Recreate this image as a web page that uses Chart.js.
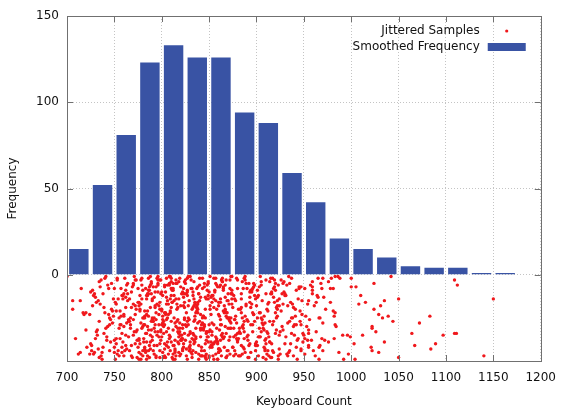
<!DOCTYPE html>
<html>
<head>
<meta charset="utf-8">
<script src="https://cdn.jsdelivr.net/npm/chart.js@4.4.1/dist/chart.umd.min.js"></script>
<style>
  html, body { margin: 0; padding: 0; background: #fff; }
  #chart { display: block; }
</style>
</head>
<body>
<canvas id="chart" width="566" height="412"></canvas>
<script>
// histogram bins (width 25) and their counts
const binCenters = [712.5, 737.5, 762.5, 787.5, 812.5, 837.5, 862.5, 887.5, 912.5, 937.5,
  962.5, 987.5, 1012.5, 1037.5, 1062.5, 1087.5, 1112.5, 1137.5, 1162.5];
const frequencies = [15, 52, 81, 123, 133, 126, 126, 94, 88, 59, 42, 21, 15, 10, 5, 4, 4, 1, 1];

const xLimits = [700, 1200];
const yLimits = [-50, 150];
const tickStep = 50;

// raw samples, y is the jitter below the axis
const jitterSamples = [
  // 700-725
  [700,-1],[715,-8],[706,-15],[714,-15],[706,-20],[717,-22],[718,-23],[720,-22],[724,-23],[720,-32],[714,-45],[712,-46],[721,-42],[724,-46],[709,-37],
  // 725-750
  [728,-12],[742,-38],[734,-27],[747,-5],[726,-44],[739,-19],[731,-33],[744,-8],[736,-47],[749,-24],
  [733,-15],[725,-40],[740,-2],[745,-29],[729,-11],[737,-45],[748,-21],[732,-35],[743,-6],[735,-17],
  [738,-42],[746,-26],[727,-9],[741,-31],[734,-48],[749,-14],[730,-37],[736,-3],[744,-23],[726,-41],
  [731,-16],[743,-30],[735,-7],[728,-46],[747,-20],[739,-34],[725,-10],[745,-25],[733,-43],[741,-1],
  [748,-28],[730,-13],[737,-49],[742,-36],[727,-18],[734,-4],[746,-39],[740,-22],[732,-32],[738,-11],
  [729,-45],[745,-44],
  // 750-775
  [758,-45],[750,-8],[765,-26],[770,-35],[754,-14],[762,-41],[773,-3],[757,-29],[768,-19],[760,-47],
  [763,-6],[771,-33],[752,-21],[766,-44],[759,-12],[774,-38],[755,-25],[761,-2],[769,-48],[751,-16],
  [756,-37],[768,-10],[760,-30],[753,-46],[772,-23],[764,-5],[750,-42],[770,-17],[758,-34],[766,-27],
  [773,-20],[755,-47],[762,-9],[767,-31],[752,-40],[759,-14],[771,-1],[765,-36],[757,-24],[763,-43],
  [753,-3],[767,-25],[759,-39],[772,-18],[751,-49],[764,-11],[756,-29],[769,-7],[761,-44],[774,-32],
  [758,-12],[750,-38],[765,-27],[770,-5],[754,-44],[762,-19],[773,-33],[757,-8],[768,-47],[760,-24],
  [764,-15],[772,-40],[753,-2],[767,-29],[760,-11],[750,-45],[756,-21],[762,-35],[770,-6],[752,-17],
  [758,-42],[770,-26],[762,-13],[755,-31],[774,-48],[766,-14],[752,-37],[772,-3],[760,-23],[768,-41],
  [763,-28],
  // 775-800
  [798,-16],[780,-30],[787,-7],[792,-46],[777,-20],[784,-34],[796,-10],[790,-25],[782,-43],[788,-1],
  [778,-28],[792,-13],[784,-49],[797,-36],[776,-18],[789,-4],[781,-39],[794,-22],[786,-32],[799,-11],
  [783,-45],[775,-8],[790,-26],[795,-35],[779,-14],[787,-41],[798,-3],[782,-29],[793,-19],[785,-47],
  [788,-6],[796,-33],[777,-21],[791,-44],[784,-12],[799,-38],[780,-25],[786,-2],[794,-48],[776,-16],
  [781,-37],[793,-10],[785,-30],[778,-46],[797,-23],[789,-5],[775,-42],[795,-17],[783,-34],[791,-27],
  [798,-20],[780,-47],[787,-9],[792,-31],[777,-40],[784,-14],[796,-1],[790,-36],[782,-24],[788,-43],
  [778,-3],[792,-25],[784,-39],[797,-18],[776,-49],[789,-11],[781,-29],[794,-7],[786,-44],[799,-32],
  [785,-12],[776,-38],[791,-27],[796,-5],[780,-44],[788,-19],[799,-33],[783,-8],[794,-47],[786,-24],
  [790,-15],[798,-40],[779,-2],[793,-29],[786,-11],[776,-45],[782,-21],[788,-35],[796,-6],[778,-17],
  [782,-42],[794,-26],[786,-9],[779,-31],[798,-48],[790,-14],[776,-37],[796,-3],[784,-23],[792,-41],
  [799,-3],[781,-25],[788,-39],[793,-18],[778,-49],[785,-11],[797,-29],[791,-7],[783,-44],[789,-32],
  [779,-6],[793,-33],[785,-21],[798,-44],[777,-12],[790,-38],[782,-25],[795,-2],[787,-48],[775,-16],
  [789,-27],[780,-9],[795,-41],
  // 800-825
  [811,-9],[802,-34],[820,-18],[807,-42],[816,-27],[824,-4],[804,-48],[813,-15],[822,-37],[809,-22],
  [819,-31],[805,-2],[814,-44],[800,-20],[823,-13],[810,-39],[817,-26],[803,-7],[812,-46],[821,-35],
  [801,-24],[812,-41],[824,-11],[808,-5],[818,-36],[805,-17],[815,-47],[822,-29],[810,-8],[803,-40],
  [803,-47],[817,-19],[809,-36],[822,-10],[801,-28],[814,-43],[806,-6],[819,-33],[811,-16],[824,-25],
  [808,-1],[800,-29],[815,-14],[820,-38],[804,-22],[812,-49],[823,-8],[807,-31],[818,-45],[810,-12],
  [813,-12],[821,-38],[802,-27],[816,-5],[809,-44],[824,-19],[805,-33],[811,-8],[819,-47],[801,-26],
  [806,-15],[818,-40],[810,-2],[803,-29],[822,-11],[814,-45],[800,-21],[820,-35],[808,-6],[816,-17],
  [823,-42],[805,-26],[812,-9],[817,-31],[802,-48],[809,-14],[821,-37],[815,-3],[807,-23],[813,-41],
  [811,-16],[802,-30],[820,-7],[807,-46],[816,-20],[824,-34],[804,-10],[813,-25],[822,-43],[809,-1],
  [819,-28],[805,-13],[814,-49],[800,-36],[823,-18],[810,-4],[817,-39],[803,-22],[812,-32],[821,-11],
  [801,-45],[812,-8],[824,-26],[808,-35],[818,-14],[805,-41],[815,-5],[822,-31],[810,-19],[803,-43],
  [803,-6],[817,-33],[809,-21],[822,-44],[801,-12],[814,-38],[806,-25],[819,-2],[811,-48],[824,-16],
  [808,-37],[800,-10],[815,-30],[820,-46],[804,-23],[812,-5],[823,-40],[807,-17],[818,-34],[810,-27],
  [806,-39],[818,-4],[814,-28],
  // 825-850
  [838,-20],[846,-47],[827,-9],[841,-31],[834,-40],[849,-14],[830,-1],[836,-36],[844,-24],[826,-43],
  [831,-3],[843,-25],[835,-39],[828,-18],[847,-49],[839,-11],[825,-29],[845,-7],[833,-44],[841,-32],
  [848,-9],[830,-34],[837,-18],[842,-42],[827,-27],[834,-4],[846,-48],[840,-15],[832,-37],[838,-22],
  [836,-31],[827,-2],[845,-44],[832,-20],[841,-13],[849,-39],[829,-26],[838,-7],[847,-46],[834,-35],
  [844,-24],[830,-41],[839,-11],[825,-5],[848,-36],[835,-17],[842,-47],[828,-29],[837,-8],[846,-40],
  [826,-47],[837,-19],[849,-36],[833,-10],[843,-28],[830,-43],[840,-6],[847,-33],[835,-16],[828,-25],
  [828,-1],[842,-29],[834,-14],[847,-38],[826,-22],[839,-49],[831,-8],[844,-31],[836,-45],[849,-12],
  [833,-12],[825,-38],[840,-27],[845,-5],[829,-44],[837,-19],[848,-33],[832,-8],[843,-47],[835,-24],
  [838,-28],[846,-13],[827,-49],[841,-36],[834,-18],[849,-4],[830,-39],[836,-22],[844,-32],[826,-11],
  [831,-45],[843,-8],[835,-26],[828,-35],[847,-14],[839,-41],[825,-3],[845,-29],[833,-19],[841,-47],
  [848,-6],[830,-33],[837,-21],[842,-44],[827,-12],[834,-38],[846,-25],[840,-2],[832,-48],[838,-16],
  [836,-37],[827,-10],[845,-30],[832,-46],[841,-23],[849,-5],[829,-42],[838,-17],[847,-34],[834,-27],
  [843,-2],[829,-15],[846,-20],[833,-34],[839,-46],[826,-30],
  // 850-875
  [869,-15],[855,-40],[864,-2],[850,-29],[873,-11],[860,-45],[867,-21],[853,-35],[862,-6],[871,-17],
  [851,-42],[862,-26],[874,-9],[858,-31],[868,-48],[855,-14],[865,-37],[872,-3],[860,-23],[853,-41],
  [853,-16],[867,-30],[859,-7],[872,-46],[851,-20],[864,-34],[856,-10],[869,-25],[861,-43],[874,-1],
  [858,-20],[850,-47],[865,-9],[870,-31],[854,-40],[862,-14],[873,-1],[857,-36],[868,-24],[860,-43],
  [863,-3],[871,-25],[852,-39],[866,-18],[859,-49],[874,-11],[855,-29],[861,-7],[869,-44],[851,-32],
  [856,-9],[868,-34],[860,-18],[853,-42],[872,-27],[864,-4],[850,-48],[870,-15],[858,-37],[866,-22],
  [873,-31],[855,-2],[862,-44],[867,-20],[852,-13],[859,-39],[871,-26],[865,-7],[857,-46],[863,-35],
  [861,-24],[852,-41],[870,-11],[857,-5],[866,-36],[874,-17],[854,-47],[863,-29],[872,-8],[859,-40],
  [869,-47],[855,-19],[864,-36],[850,-10],[873,-28],[860,-43],[867,-6],[853,-33],[862,-16],[871,-25],
  [851,-1],[862,-29],[874,-14],[858,-38],[868,-22],[855,-49],[865,-8],[872,-31],[860,-45],[853,-12],
  [853,-28],[867,-13],[859,-49],[872,-36],[851,-18],[864,-4],[856,-39],[869,-22],[861,-32],[874,-11],
  [858,-6],[850,-33],[865,-21],[870,-44],[854,-12],[862,-38],[873,-25],[857,-2],[868,-48],[860,-16],
  [866,-42],[852,-23],[871,-38],[857,-15],[863,-47],[868,-3],
  // 875-900
  [888,-45],[896,-8],[877,-26],[891,-35],[884,-14],[899,-41],[880,-3],[886,-29],[894,-19],[876,-47],
  [881,-37],[893,-10],[885,-30],[878,-46],[897,-23],[889,-5],[875,-42],[895,-17],[883,-34],[891,-27],
  [898,-12],[880,-38],[887,-27],[892,-5],[877,-44],[884,-19],[896,-33],[890,-8],[882,-47],[888,-24],
  [886,-42],[877,-26],[895,-9],[882,-31],[891,-48],[899,-14],[879,-37],[888,-3],[897,-23],[884,-41],
  [894,-9],[880,-34],[889,-18],[875,-42],[898,-27],[885,-4],[892,-48],[878,-15],[887,-37],[896,-22],
  [876,-31],[887,-2],[899,-44],[883,-20],[893,-13],[880,-39],[890,-26],[897,-7],[885,-46],[878,-35],
  [878,-24],[892,-41],[884,-11],[897,-5],[876,-36],[889,-17],[881,-47],[894,-29],[886,-8],[899,-40],
  [883,-47],[875,-19],[890,-36],[895,-10],[879,-28],[887,-43],[898,-6],[882,-33],[893,-16],[885,-25],
  [888,-1],[896,-29],[877,-14],[891,-38],[884,-22],[899,-49],[880,-8],[886,-31],[894,-45],[876,-12],
  [881,-20],[893,-40],[887,-33],[879,-2],
  // 900-925
  [906,-28],[918,-13],[910,-49],[903,-36],[922,-18],[914,-4],[900,-39],[920,-22],[908,-32],[916,-11],
  [923,-6],[905,-33],[912,-21],[917,-44],[902,-12],[909,-38],[921,-25],[915,-2],[907,-48],[913,-16],
  [911,-20],[902,-47],[920,-9],[907,-31],[916,-40],[924,-14],[904,-1],[913,-36],[922,-24],[909,-43],
  [919,-3],[905,-25],[914,-39],[900,-18],[923,-49],[910,-11],[917,-29],[903,-7],[912,-44],[921,-32],
  [901,-9],[912,-34],[924,-18],[908,-42],[918,-27],[905,-4],[915,-48],[922,-15],[910,-37],[903,-22],
  [903,-31],[917,-2],[909,-44],[922,-20],[901,-13],[914,-39],[906,-26],[919,-7],[911,-46],[924,-35],
  [908,-24],[900,-41],[915,-11],[920,-5],[904,-36],[912,-17],[923,-47],[907,-29],[918,-8],[910,-40],
  [913,-47],[921,-19],[902,-36],[916,-10],[909,-28],[924,-43],[905,-6],[911,-33],[919,-16],[901,-25],
  [906,-15],[918,-45],[914,-27],[901,-41],[920,-34],[910,-3],[904,-22],[916,-48],
  // 925-950
  [931,-12],[943,-38],[935,-27],[928,-5],[947,-44],[939,-19],[925,-33],[945,-8],[933,-47],[941,-24],
  [948,-15],[930,-40],[937,-2],[942,-29],[927,-11],[934,-45],[946,-21],[940,-35],[932,-6],[938,-17],
  [936,-16],[927,-30],[945,-7],[932,-46],[941,-20],[949,-34],[929,-10],[938,-25],[947,-43],[934,-1],
  [944,-37],[930,-12],[939,-30],[925,-46],[948,-23],[935,-5],[942,-42],[928,-17],[937,-34],[946,-27],
  [926,-3],[937,-25],[949,-39],[933,-18],[943,-49],[930,-11],[940,-29],[947,-7],[935,-44],[928,-32],
  [931,-36],[944,-14],[939,-47],[926,-21],[947,-29],[936,-40],[929,-4],[942,-9],[933,-28],
  // 950-975
  [965,-2],[959,-4],[968,-5],[951,-8],[959,-7],[959,-9],[959,-11],[969,-8],[964,-12],[965,-13],
  [971,-13],[955,-15],[954,-17],[963,-16],[961,-18],[952,-24],[966,-25],[967,-25],[970,-28],[953,-30],
  [955,-32],[955,-34],[950,-35],[951,-37],[954,-38],[958,-38],[969,-37],[972,-38],[955,-41],[955,-42],
  [966,-42],[967,-41],[970,-44],[951,-46],[962,-47],[966,-49],[956,-26],[963,-33],[973,-20],[960,-44],
  [957,-6],[970,-2],
  // 975-1000
  [979,-2],[983,-1],[986,-1],[988,-2],[976,-4],[978,-8],[981,-8],[978,-16],[981,-21],[983,-22],
  [982,-24],[983,-29],[984,-30],[991,-35],[996,-35],[999,-36],[976,-39],[982,-37],[987,-45],[997,-46],
  [992,-49],
  // 1000-1025
  [1000,-2],[1000,-7],[1005,-7],[1010,-12],[1008,-17],[1015,-16],[1024,-5],[1024,-20],[1022,-30],[1022,-31],
  [1012,-35],[1003,-40],[1021,-42],[1022,-44],[1004,-49],
  // 1025-1050
  [1042,-1],[1035,-15],[1031,-18],[1029,-23],[1033,-25],[1039,-24],[1026,-33],[1035,-39],[1029,-45],[1044,-27],
  // 1050 and up
  [1050,-14],[1050,-48],[1064,-34],[1067,-41],[1072,-28],
  [1083,-24],[1097,-35],[1089,-40],[1084,-43],
  [1109,-3],[1112,-6],[1109,-34],[1111,-34],
  [1140,-47],
  [1150,-14]
];

const FONT = '"DejaVu Sans", Verdana, sans-serif';
Chart.defaults.font.family = FONT;
Chart.defaults.font.size = 12;
Chart.defaults.color = '#111';

const RED = 'rgb(240,24,28)';
const BLUE = '#3953a4';
const FRAME = '#707070';

// gnuplot style box: border, inward ticks on all four sides, legend inside the top right
const frameAndKey = {
  id: 'frameAndKey',
  afterDraw(chart) {
    const { ctx, chartArea: a, scales: { x, y } } = chart;
    const tickLen = 6;
    ctx.save();
    ctx.strokeStyle = FRAME;
    ctx.lineWidth = 1;
    ctx.beginPath();
    for (const t of x.ticks) {
      const px = Math.round(x.getPixelForValue(t.value)) + 0.5;
      ctx.moveTo(px, a.bottom);
      ctx.lineTo(px, a.bottom - tickLen);
      ctx.moveTo(px, a.top);
      ctx.lineTo(px, a.top + tickLen);
    }
    for (const t of y.ticks) {
      if (t.value < 0) continue;
      const py = Math.round(y.getPixelForValue(t.value)) + 0.5;
      ctx.moveTo(a.left, py);
      ctx.lineTo(a.left + tickLen, py);
      ctx.moveTo(a.right, py);
      ctx.lineTo(a.right - tickLen, py);
    }
    ctx.stroke();
    ctx.strokeRect(Math.round(a.left) + 0.5, Math.round(a.top) + 0.5,
      Math.round(a.width), Math.round(a.height));

    // key
    const [samples, bars] = chart.data.datasets;
    const textRight = a.right - 61;
    const row1 = a.top + 15;
    const row2 = a.top + 31;
    ctx.font = '12px ' + FONT;
    ctx.fillStyle = '#111';
    ctx.textAlign = 'right';
    ctx.textBaseline = 'middle';
    ctx.fillText(samples.label, textRight, row1);
    ctx.fillText(bars.label, textRight, row2);
    ctx.fillStyle = RED;
    ctx.beginPath();
    ctx.arc(a.right - 34, row1, 1.6, 0, Math.PI * 2);
    ctx.fill();
    ctx.fillStyle = BLUE;
    ctx.fillRect(a.right - 53, row2 - 4, 38, 8);
    ctx.restore();
  }
};

new Chart(document.getElementById('chart'), {
  type: 'bar',
  data: {
    datasets: [
      {
        type: 'scatter',
        label: 'Jittered Samples',
        data: jitterSamples.map(([x, y]) => ({ x, y })),
        pointRadius: 1.7,
        pointBorderWidth: 0,
        backgroundColor: RED,
        borderColor: RED
      },
      {
        type: 'bar',
        label: 'Smoothed Frequency',
        data: binCenters.map((x, i) => ({ x, y: frequencies[i] })),
        backgroundColor: BLUE,
        borderWidth: 0,
        barPercentage: 0.82,
        categoryPercentage: 1
      }
    ]
  },
  options: {
    responsive: false,
    animation: false,
    devicePixelRatio: 1,
    layout: { padding: { top: 16, right: 23, bottom: 0, left: 0 } },
    plugins: {
      legend: { display: false },
      tooltip: { enabled: false }
    },
    scales: {
      x: {
        type: 'linear',
        offset: false,
        min: xLimits[0],
        max: xLimits[1],
        ticks: { stepSize: tickStep, padding: 10, color: '#111', callback: (v) => String(v) },
        grid: { color: '#c4c4c4', drawTicks: false, offset: false },
        border: { display: false, dash: [1, 2] },
        title: { display: true, text: 'Keyboard Count', padding: { top: 0, bottom: 3 }, color: '#111' },
        afterFit: (scale) => { scale.height = 51; }
      },
      y: {
        min: yLimits[0],
        max: yLimits[1],
        ticks: {
          stepSize: tickStep,
          padding: 8,
          color: '#111',
          callback: (v) => (v < 0 ? '' : String(v))
        },
        grid: { color: '#c4c4c4', drawTicks: false },
        border: { display: false, dash: [1, 2] },
        title: { display: true, text: 'Frequency', padding: { top: 6, bottom: 0 }, color: '#111' },
        afterFit: (scale) => { scale.width = 67; }
      }
    }
  },
  plugins: [frameAndKey]
});
</script>
</body>
</html>
